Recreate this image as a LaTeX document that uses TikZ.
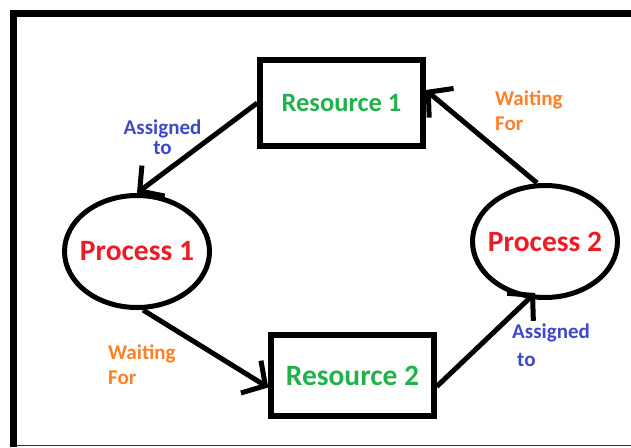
\documentclass[tikz,border=0pt]{standalone}
\usepackage{fontspec}
\setmainfont{Carlito}
\usetikzlibrary{arrows.meta,calc,shapes.geometric}
\definecolor{resgreen}{HTML}{22B14C}
\definecolor{procred}{HTML}{ED1C24}
\definecolor{waitorange}{HTML}{FF7F27}
\definecolor{assignblue}{HTML}{3F48CC}
\begin{document}
\begin{tikzpicture}[x=1pt,y=-1pt,
  resbox/.style={draw, line width=5.5pt, rectangle, inner sep=0pt, text=resgreen},
  procnode/.style={draw, line width=5pt, ellipse, inner ysep=0pt, inner xsep=-25pt,
    minimum width=145pt, minimum height=112pt, text=procred,
    font=\bfseries\fontsize{29.5}{33}\selectfont},
  flow/.style={line width=5pt, -{Straight Barb[length=17pt,width=38pt]}},
  waitlabel/.style={text=waitorange, align=left, inner sep=0pt,
    font=\bfseries\fontsize{21}{25}\selectfont},
  assignlabel/.style={text=assignblue, inner sep=0pt},
  frameline/.style={line width=7pt, line join=miter}
]
\useasboundingbox (0,0) rectangle (631,447);

% outer frame
\draw[frameline] (13.5,447) -- (13.5,13) -- (631,13);
\draw[line width=1.2pt, black!80] (17,445.5) -- (631,445.5);

% resources
\node[resbox, minimum width=163pt, minimum height=86pt,
  font=\bfseries\fontsize{26.5}{30}\selectfont] (r1) at (341.5,103) {Resource 1};
\node[resbox, minimum width=163pt, minimum height=81pt,
  font=\bfseries\fontsize{29.5}{33}\selectfont] (r2) at (352.5,375.5) {Resource 2};

% processes
\node[procnode] (p1) at (137,251.5) {Process 1};
\node[procnode] (p2) at (545,241.5) {Process 2};

% edges
\draw[flow] (r1.west) -- (p1.north);
\draw[flow] ($(p2.north)+(-8,0)$) -- ($(r1.east)+(0,-13)$);
\draw[flow] ($(p1.south)+(6,0)$) -- ($(r2.west)+(0,12)$);
\draw[flow] ($(r2.east)+(0,11)$) -- ($(p2.south)+(-10,-7)$);

% edge labels
\node[assignlabel, align=center, anchor=north,
  font=\bfseries\fontsize{21}{20}\selectfont] (a1) at (162.5,120) {Assigned\\to};
\node[waitlabel, anchor=north west] (w1) at (495,91) {Waiting\\For};
\node[waitlabel, anchor=north west] (w2) at (108,345) {Waiting\\For};
\node[assignlabel, align=left, anchor=north west,
  font=\bfseries\fontsize{21}{28}\selectfont] (a2) at (512,324) {Assigned\\\hspace*{5pt}to};
\end{tikzpicture}
\end{document}
